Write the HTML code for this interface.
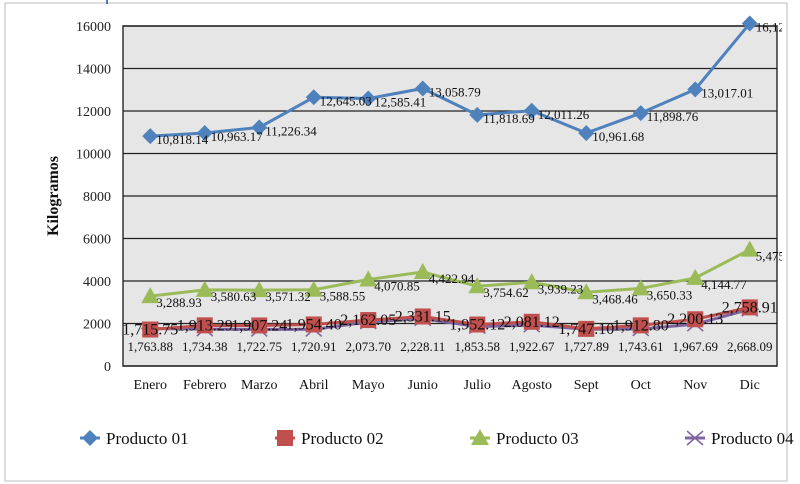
<!DOCTYPE html>
<html><head><meta charset="utf-8"><style>
body{margin:0;background:#fff;}
svg{display:block;font-family:"Liberation Serif",serif;}
</style></head><body>
<svg id="chart" width="800" height="484">
<defs><clipPath id="clip"><rect x="0" y="0" width="782" height="484"/></clipPath></defs>
<rect x="5" y="3" width="782" height="478" fill="#fff" stroke="#bbb"/>
<line x1="107" y1="0" x2="107" y2="4" stroke="#4a7ebb" stroke-width="2"/>
<g id="plot" clip-path="url(#clip)"></g>
<g id="legend"></g>
</svg>
<script>
const months=["Enero","Febrero","Marzo","Abril","Mayo","Junio","Julio","Agosto","Sept","Oct","Nov","Dic"];
const yTicks=[0,2000,4000,6000,8000,10000,12000,14000,16000];
const p01=[10818.14,10963.17,11226.34,12645.03,12585.41,13058.79,11818.69,12011.26,10961.68,11898.76,13017.01,16120];
const p02=[1715.75,1913.29,1907.24,1954.40,2162.05,2331.15,1952.12,2081.12,1747.10,1912.80,2200.13,2758.91];
const p03=[3288.93,3580.63,3571.32,3588.55,4070.85,4422.94,3754.62,3939.23,3468.46,3650.33,4144.77,5475];
const p04=[1763.88,1734.38,1722.75,1720.91,2073.70,2228.11,1853.58,1922.67,1727.89,1743.61,1967.69,2668.09];
const names=["Producto 01","Producto 02","Producto 03","Producto 04"];

const NS="http://www.w3.org/2000/svg";
const g=document.getElementById('plot');
const leg=document.getElementById('legend');
const L=123,R=777,T=26,B=366,step=(R-L)/12;
const x=i=>L+step*(i+0.5);
const y=v=>B-(v/16000)*(B-T);
function el(tag,attrs,parent){const e=document.createElementNS(NS,tag);for(const k in attrs)e.setAttribute(k,attrs[k]);(parent||g).appendChild(e);return e;}
const fmt=v=>v.toLocaleString('en-US',{minimumFractionDigits:2,maximumFractionDigits:2});

const bg=el('rect',{x:L,y:T,width:R-L,height:B-T,fill:'#e6e6e6',stroke:'#333','stroke-width':1.5});


yTicks.forEach(t=>{
  const ln=el('line',{x1:L,x2:R,y1:y(t),y2:y(t),stroke:'#222','stroke-width':1.3});
  
  
  const tx=el('text',{x:L-12,y:y(t)+5,'text-anchor':'end','font-size':14,fill:'#222'});
  tx.textContent=t;
  
  
});
months.forEach((m,i)=>{
  const tx=el('text',{x:x(i),y:389,'text-anchor':'middle','font-size':14,fill:'#111'});
  tx.textContent=m;
  
  
});
const yt=el('text',{x:0,y:0,transform:'translate(58,196) rotate(-90)','text-anchor':'middle','font-size':16,'font-weight':'bold',fill:'#111'});
yt.textContent='Kilogramos';



function marker(type,cx,cy,parent,color){
  let m;
  if(type==='d') m=el('polygon',{points:`${cx},${cy-8} ${cx+8},${cy} ${cx},${cy+8} ${cx-8},${cy}`,fill:color},parent);
  else if(type==='s') m=el('rect',{x:cx-8,y:cy-8,width:16,height:16,fill:color},parent);
  else if(type==='t') m=el('polygon',{points:`${cx},${cy-9} ${cx+9},${cy+7} ${cx-9},${cy+7}`,fill:color},parent);
  else {m=el('path',{d:`M${cx-8},${cy-7}L${cx+8},${cy+7}M${cx-8},${cy+7}L${cx+8},${cy-7}M${cx-9},${cy}L${cx+9},${cy}`,stroke:color,'stroke-width':1.5,fill:'none'},parent);}
  return m;
}
const series=[
 {d:p04,c:'#8064a2',m:'x',lx:0,ly:24,fs:13,anchor:'middle'},
 {d:p03,c:'#9bbb59',m:'t',lx:6,ly:11,fs:13,anchor:'start'},
 {d:p02,c:'#c0504d',m:'s',lx:0,ly:5,fs:16,anchor:'middle'},
 {d:p01,c:'#4f81bd',m:'d',lx:6,ly:8,fs:13,anchor:'start'}
];
series.forEach((s,si)=>{
  const sg=el('g',{});
  
  
  const line=el('polyline',{points:s.d.map((v,i)=>x(i)+','+y(v)).join(' '),fill:'none',stroke:s.c,'stroke-width':3},sg);
  
  
  s.d.forEach((v,i)=>{
    const m=marker(s.m,x(i),y(v),sg,s.c);
    
    
  });
});
series.forEach(s=>{
  s.d.forEach((v,i)=>{
    const ty = s.m==='x' ? 351 : y(v)+s.ly;
    const tx=el('text',{x:x(i)+s.lx,y:ty,'text-anchor':s.anchor,'font-size':s.fs,fill:'#111'});
    tx.textContent=fmt(v);
    
    
  });
});
// legend
const lx=[90,285,480,695],cols=['#4f81bd','#c0504d','#9bbb59','#8064a2'],mk=['d','s','t','x'];
names.forEach((n,i)=>{
  const lg=el('g',{},leg);
  
  
  el('line',{x1:lx[i]-10,x2:lx[i]+10,y1:438,y2:438,stroke:cols[i],'stroke-width':3},lg);
  marker(mk[i],lx[i],438,lg,cols[i]);
  const t=el('text',{x:lx[i]+16,y:444,'font-size':17,fill:'#111'},lg);
  t.textContent=n;
});
</script>
</body></html>
